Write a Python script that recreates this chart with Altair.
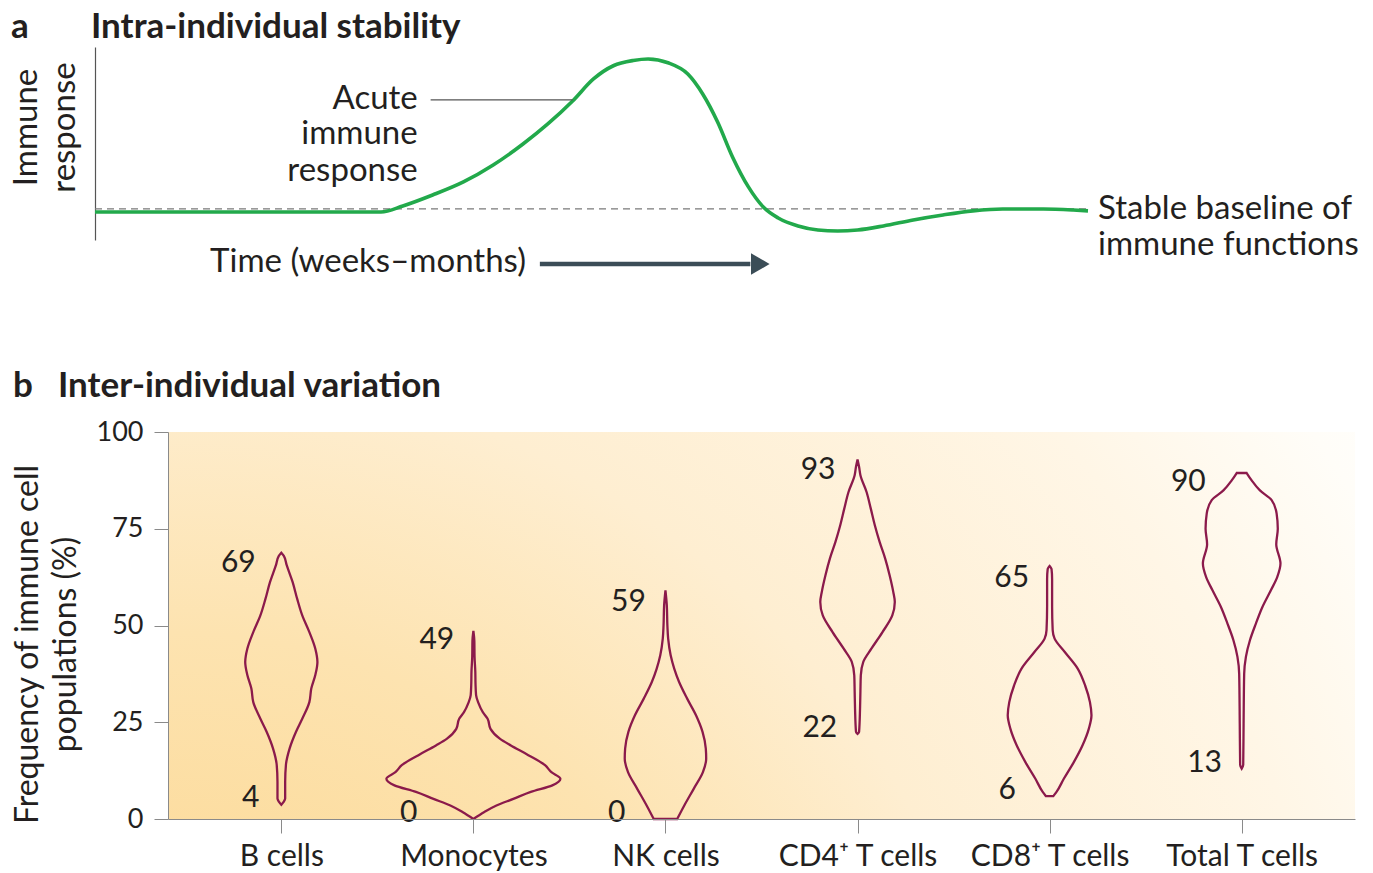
import json
import altair as alt
import numpy as np
import pandas as pd

FONT = "Lato"
INK = "#231F20"
GREEN = "#22A94B"
ARROW = "#3B4D57"
VIOLIN = "#8B1A4B"
AXIS_GRAY = "#8A8A8A"

# ---------------- Panel a : intra-individual stability ----------------
time_pts = [0, 28.8, 31.0, 34.0, 37.1, 40.1, 43.1, 45.6, 48.1, 50.2, 52.2, 54.2, 55.7,
            57.7, 59.7, 61.2, 62.7, 64.2, 65.8, 67.3, 68.8, 70.8, 72.8, 74.8, 76.8,
            79.4, 82.4, 85.4, 88.4, 91.4, 95.5, 98.5, 100]
response = [-0.02, -0.02, 0.02, 0.093, 0.18, 0.293, 0.433, 0.567, 0.72, 0.867, 0.955, 0.99, 1.0,
            0.975, 0.9, 0.767, 0.58, 0.347, 0.147, 0.013, -0.06, -0.113, -0.14, -0.147, -0.14,
            -0.113, -0.073, -0.04, -0.013, 0.0, 0.0, -0.007, -0.013]

acute_lines = ["Acute", "immune", "response"]
acute_r = [0.733, 0.5, 0.253]
acute_t = 32.5
leader_t = [33.8, 48.1]
leader_r = 0.727
stable_lines = ["Stable baseline of", "immune functions"]
stable_r = [0.0, -0.24]
time_label = "Time (weeks\u2013months)"
time_label_t, time_label_r = 43.4, -0.353
arrow_t = [44.8, 66.0]
arrow_head_t = 67.0
arrow_r = -0.367

# Layout (pixels, relative to the origin of panel b's plot area)
A_X_RANGE = [-73, 920]
A_Y_RANGE = [-192, -385]

curve = pd.DataFrame({"t": time_pts, "r": response})

XA = alt.X("t:Q", scale=alt.Scale(domain=[0, 100], range=A_X_RANGE, nice=False, zero=False), axis=None)
YA = alt.Y("r:Q", scale=alt.Scale(domain=[-0.207, 1.08], range=A_Y_RANGE, nice=False, zero=False),
           axis=alt.Axis(orient="left", offset=73, title=["Immune", "response"], ticks=False, labels=False,
                         grid=False, domainColor="#555555", domainWidth=1.2, titleFontSize=33,
                         titleFontWeight="normal", titleLineHeight=38, titlePadding=14,
                         titleY=-305, titleColor=INK, titleFont=FONT))

dashed = alt.Chart(pd.DataFrame({"t": [0], "t2": [100], "r": [0.0]})).mark_rule(
    color="#7A7A7A", strokeDash=[7, 5], strokeWidth=1.3
).encode(x=XA, x2="t2:Q", y=YA)

line = alt.Chart(curve).mark_line(color=GREEN, strokeWidth=3.6, interpolate="monotone").encode(x=XA, y=YA)

leader = alt.Chart(pd.DataFrame({"t": [leader_t[0]], "t2": [leader_t[1]], "r": [leader_r]})).mark_rule(
    color="#555555", strokeWidth=1.2
).encode(x=XA, x2="t2:Q", y=YA)

acute = alt.Chart(pd.DataFrame({"t": [acute_t] * 3, "r": acute_r, "s": acute_lines})).mark_text(
    align="right", baseline="middle", font=FONT, fontSize=33, color=INK
).encode(x=XA, y=YA, text="s:N")

stable = alt.Chart(pd.DataFrame({"t": [100, 100], "r": stable_r, "s": stable_lines})).mark_text(
    align="left", baseline="middle", font=FONT, fontSize=33, color=INK, dx=10
).encode(x=XA, y=YA, text="s:N")

time_txt = alt.Chart(pd.DataFrame({"t": [time_label_t], "r": [time_label_r], "s": [time_label]})).mark_text(
    align="right", baseline="middle", font=FONT, fontSize=33, color=INK
).encode(x=XA, y=YA, text="s:N")

arrow_shaft = alt.Chart(pd.DataFrame({"t": [arrow_t[0]], "t2": [arrow_t[1]], "r": [arrow_r]})).mark_rule(
    color=ARROW, strokeWidth=4.5
).encode(x=XA, x2="t2:Q", y=YA)

arrow_head = alt.Chart(pd.DataFrame({"t": [arrow_head_t], "r": [arrow_r]})).mark_point(
    shape="triangle-right", filled=True, color=ARROW, size=460, opacity=1
).encode(x=XA, y=YA)

layer_a = alt.layer(dashed, line, leader, acute, stable, time_txt, arrow_shaft, arrow_head)

# ---------------- Panel b : inter-individual variation ----------------
categories = ["B cells", "Monocytes", "NK cells", "CD4\u207a T cells", "CD8\u207a T cells", "Total T cells"]
min_vals = [4, 0, 0, 22, 6, 13]
max_vals = [69, 49, 59, 93, 65, 90]

# violin outlines: value (%) and half-width (fraction of category spacing)
b_v = [3.7, 4.5, 5.3, 9.6, 14.0, 18.2, 22.5, 25.9, 30.2, 33.7, 37.2, 40.6, 44.0, 48.3, 52.6, 56.8, 61.2, 65.6, 68.0, 68.8]
b_w = [0, .013, .020, .020, .024, .043, .076, .109, .146, .156, .177, .188, .177, .146, .109, .083, .059, .028, .013, 0]

mono_v = [0, 1.8, 3.5, 5.2, 7.0, 8.7, 10.4, 12.1, 13.9, 16.5, 19.0, 20.7, 23.3, 25.9, 27.6, 30.0, 32.0, 35.0, 38.0, 42.0, 46.0, 48.6]
mono_w = [0, .057, .120, .208, .299, .411, .453, .406, .373, .286, .195, .139, .089, .074, .049, .026, .014, .011, .010, .006, .005, 0]

nk_v = [0, 3.5, 7.8, 12.1, 15.6, 18.2, 22.5, 26.8, 31.1, 35.4, 38.8, 42.3, 46.6, 50.0, 55.2, 59.1]
nk_w = [.061, .098, .147, .195, .212, .210, .193, .159, .113, .071, .046, .027, .014, .010, .007, 0]

cd4_v = [22.0, 22.5, 28.5, 33.0, 37.1, 40.6, 44.0, 48.3, 52.6, 56.1, 58.7, 63.0, 67.3, 71.6, 75.9, 80.2, 84.5, 88.8, 91.0, 92.9]
cd4_w = [0, .008, .013, .015, .017, .030, .072, .130, .181, .194, .186, .167, .144, .115, .090, .069, .047, .015, .008, 0]

cd8_v = [5.9, 7.0, 10.4, 14.7, 19.0, 23.3, 26.8, 30.2, 34.5, 38.8, 43.2, 46.6, 48.8, 55.0, 62.0, 64.6, 65.4]
cd8_w = [.019, .036, .074, .126, .171, .204, .218, .210, .185, .147, .078, .026, .016, .013, .013, .010, 0]

tot_v = [13.0, 14.0, 24.6, 37.5, 41.9, 46.2, 50.5, 54.8, 59.1, 62.5, 66.0, 71.0, 75.0, 78.9, 82.4, 84.9, 87.5, 89.4]
tot_w = [0, .008, .010, .013, .022, .043, .074, .108, .152, .185, .202, .180, .188, .182, .156, .095, .052, .026]

profiles = [(b_v, b_w), (mono_v, mono_w), (nk_v, nk_w), (cd4_v, cd4_w), (cd8_v, cd8_w), (tot_v, tot_w)]

X_DOMAIN = [-0.59, 5.59]

rows = []
for i, (cat, (vs, ws)) in enumerate(zip(categories, profiles)):
    for v, w in zip(vs, ws):
        rows.append({"cat": cat, "v": v, "lo": i - w, "hi": i + w})
violins = pd.DataFrame(rows)

label_gap = 0.094
lab_rows = []
for i, (cat, (vs, ws)) in enumerate(zip(categories, profiles)):
    for kind, val, lo, hi in (("max", max_vals[i], max_vals[i] - 5, max_vals[i]),
                              ("min", min_vals[i], min_vals[i], min_vals[i] + 5)):
        grid = np.linspace(lo, hi, 26)
        wmax = float(np.interp(grid, vs, ws, left=0, right=0).max())
        lab_rows.append({"cat": cat, "kind": kind, "v": val, "x": i - wmax - label_gap, "s": str(val)})
labels = pd.DataFrame(lab_rows)

label_expr = json.dumps(categories) + "[datum.value]"

x_axis_b = alt.Axis(orient="bottom", values=list(range(len(categories))), labelExpr=label_expr, title=None,
                    grid=False, tickSize=14, tickColor=AXIS_GRAY, domainColor=AXIS_GRAY, labelFontSize=30,
                    labelFont=FONT, labelColor=INK, labelPadding=8, zindex=1)
y_axis_b = alt.Axis(orient="left", values=[0, 25, 50, 75, 100],
                    title=["Frequency of immune cell", "populations (%)"],
                    grid=False, tickSize=14, tickColor=AXIS_GRAY, domainColor=AXIS_GRAY,
                    labelFontSize=27, labelFont=FONT, labelColor=INK, labelPadding=11,
                    titleFontSize=32, titleFont=FONT, titleColor=INK, titleFontWeight="normal",
                    titleLineHeight=38, titlePadding=14, titleY=212, zindex=1)


def xb(field):
    return alt.X(f"{field}:Q", scale=alt.Scale(domain=X_DOMAIN, nice=False, zero=False), axis=x_axis_b)


def yb(field):
    return alt.Y(f"{field}:Q", scale=alt.Scale(domain=[0, 100], nice=False, zero=False), axis=y_axis_b)


bg = alt.Chart(pd.DataFrame({"x": [X_DOMAIN[0]], "x2": [X_DOMAIN[1]], "v": [0], "v2": [100]})).mark_rect(
    fill=alt.RadialGradient(
        gradient="radial",
        stops=[alt.GradientStop(offset=0, color="#FBD283"),
               alt.GradientStop(offset=0.38, color="#FDE3B0"),
               alt.GradientStop(offset=0.55, color="#FEEED1"),
               alt.GradientStop(offset=0.77, color="#FFF6E6"),
               alt.GradientStop(offset=0.9, color="#FFFDF8"),
               alt.GradientStop(offset=1, color="#FFFFFF")],
        x1=0, y1=1, r1=0, x2=0, y2=1, r2=1.3)
).encode(x=xb("x"), x2="x2:Q", y=yb("v"), y2="v2:Q")

violin = alt.Chart(violins).mark_area(
    orient="horizontal", interpolate="monotone", fill="transparent", stroke=VIOLIN, strokeWidth=2.3
).encode(y=yb("v"), x=xb("lo"), x2="hi:Q", detail="cat:N")

max_lab = alt.Chart(labels[labels.kind == "max"]).mark_text(
    align="right", baseline="top", dy=-4, font=FONT, fontSize=30, color=INK
).encode(x=xb("x"), y=yb("v"), text="s:N")

min_lab = alt.Chart(labels[labels.kind == "min"]).mark_text(
    align="right", baseline="alphabetic", dy=3, font=FONT, fontSize=30, color=INK
).encode(x=xb("x"), y=yb("v"), text="s:N")

layer_b = alt.layer(bg, violin, max_lab, min_lab)

# ---------------- panel letters and headings ----------------
def heading(text, px, py):
    return alt.Chart(pd.DataFrame({"s": [text]})).mark_text(
        align="left", baseline="top", font=FONT, fontSize=35, fontWeight="bold", color=INK
    ).encode(x=alt.value(px), y=alt.value(py), text="s:N")


headings = alt.layer(
    heading("a", -157, -422),
    heading("Intra-individual stability", -77, -422),
    heading("b", -155, -63),
    heading("Inter-individual variation", -110, -63),
)

chart = alt.layer(layer_a, layer_b, headings).resolve_scale(
    x="independent", y="independent"
).properties(
    width=1187, height=387, padding={"left": 2, "top": 2, "right": 0, "bottom": 0}
).configure_view(stroke=None)

chart.save("out.html", embed_options={"renderer": "svg", "actions": False})
